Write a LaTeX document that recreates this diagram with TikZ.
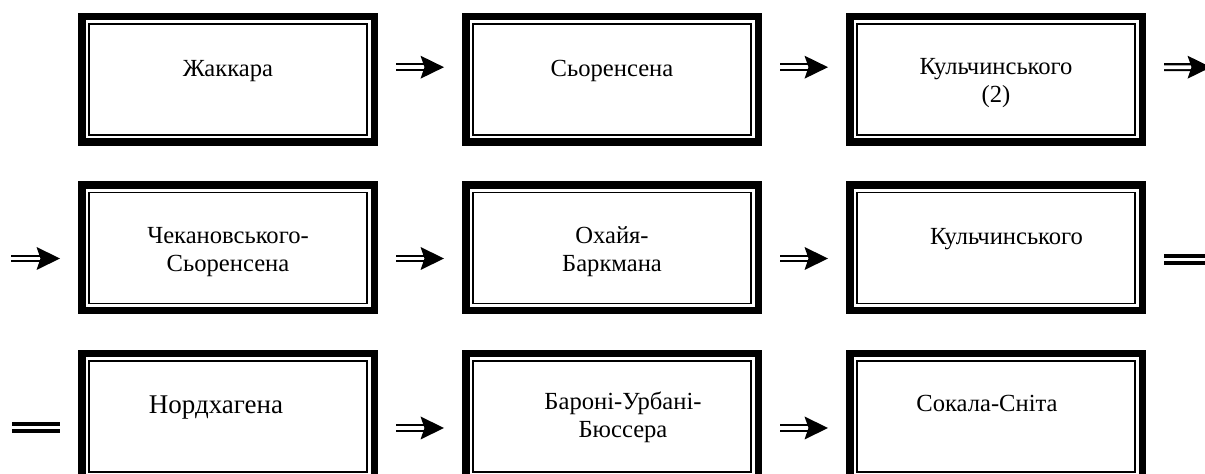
\documentclass[tikz,border=0pt]{standalone}
\usepackage{fontspec}
\setmainfont{Liberation Serif}
\usetikzlibrary{arrows.meta}
\begin{document}
\begin{tikzpicture}[x=0.5pt,y=-0.5pt,
  framebox/.style={draw, line width=3.75pt, minimum width=146.25pt, minimum height=62.75pt, inner sep=0pt, outer sep=0pt},
  innerline/.style={line width=0.9pt},
  lbl/.style={font=\fontsize{12.3pt}{14.25pt}\selectfont, inner sep=0pt, align=center, anchor=base},
  biglbl/.style={lbl, font=\fontsize{13.5pt}{16pt}\selectfont},
  shaft/.style={double, double distance=1.85pt, line width=1.05pt, shorten <=10.875pt, shorten >=19.5pt},
  arrhead/.style={draw=white, line width=0.5pt, shorten <=10.875pt, shorten >=10.875pt, -{Stealth[length=11.75pt,width=11.5pt,inset=2pt,line width=0pt,color=black,fill=black]}},
  eqline/.style={double, double distance=1.9pt, line width=1.9pt, shorten <=10.875pt, shorten >=10.875pt}
]
\useasboundingbox (0,0) rectangle (1205,474);
\clip (0,0) rectangle (1205,474);

% boxes
\node[framebox] (b1) at (228,79.5) {};
\node[framebox] (b2) at (612,79.5) {};
\node[framebox] (b3) at (996,79.5) {};
\node[framebox] (b4) at (228,248) {};
\node[framebox] (b5) at (612,248) {};
\node[framebox] (b6) at (996,248) {};
\node[framebox] (b7) at (228,416.5) {};
\node[framebox] (b8) at (612,416.5) {};
\node[framebox] (b9) at (996,416.5) {};
\foreach \b in {b1,b2,b3,b4,b5,b6,b7,b8,b9}
  \draw[innerline] ([shift={(7.25,7.25)}]\b.north west) rectangle ([shift={(-7.25,-7.25)}]\b.south east);

% labels (base anchor = baseline of the last line)
\node[lbl] (t1) at ([shift={(0,-2.5)}]b1.center) {Жаккара};
\node[lbl] (t2) at ([shift={(0,-2.5)}]b2.center) {Сьоренсена};
\node[lbl] (t3) at ([shift={(0,23.5)}]b3.center) {Кульчинського\\(2)};
\node[lbl] (t4) at ([shift={(0,23.7)}]b4.center) {Чекановського-\\Сьоренсена};
\node[lbl] (t5) at ([shift={(0,23.7)}]b5.center) {Охайя-\\Баркмана};
\node[lbl] (t6) at ([shift={(10.5,-3.7)}]b6.center) {Кульчинського};
\node[biglbl] (t7) at ([shift={(-12,-2.5)}]b7.center) {Нордхагена};
\node[lbl] (t8) at ([shift={(11,21.5)}]b8.center) {Бароні-Урбані-\\Бюссера};
\node[lbl] (t9) at ([shift={(-9,-4.5)}]b9.center) {Сокала-Сніта};

% free ends
\coordinate (r1) at (1232.75,67.2);
\coordinate (l2) at (-10.75,258.5);
\coordinate (r2) at (1230,259.5);
\coordinate (l3) at (-9.75,427.5);

% connectors
\foreach \a/\c/\ys in {b1/b2/6.15pt, b2/b3/6.15pt, b4/b5/-5.25pt, b5/b6/-5.25pt, b7/b8/-5.75pt, b8/b9/-5.75pt}{
  \draw[shaft] ([yshift=\ys]\a.east) -- ([yshift=\ys]\c.west);
  \draw[arrhead] ([yshift=\ys]\a.east) -- ([yshift=\ys]\c.west);
}
\draw[shaft] ([yshift=6.15pt]b3.east) -- (r1);
\draw[arrhead] ([yshift=6.15pt]b3.east) -- (r1);
\draw[shaft] (l2) -- ([yshift=-5.25pt]b4.west);
\draw[arrhead] (l2) -- ([yshift=-5.25pt]b4.west);
\draw[eqline] ([yshift=-5.75pt]b6.east) -- (r2);
\draw[eqline] (l3) -- ([yshift=-5.5pt]b7.west);
\end{tikzpicture}
\end{document}
